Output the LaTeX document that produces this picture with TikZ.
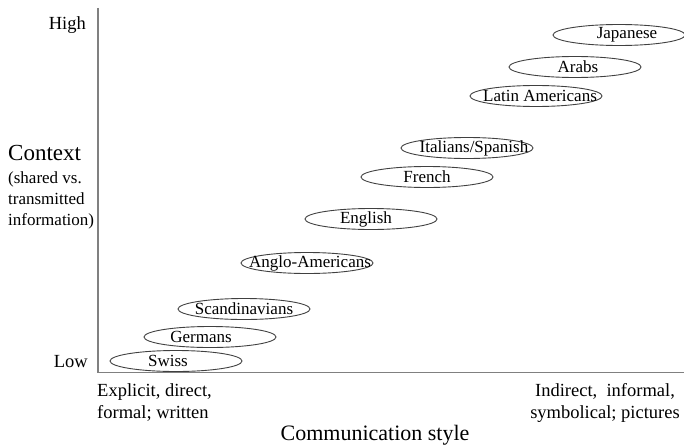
\documentclass[tikz,border=0pt]{standalone}
\usepackage{fontspec}
\setmainfont{Liberation Serif}
\usetikzlibrary{shapes.geometric}
\tikzset{
  culture/.style={ellipse, draw=black!75, line width=0.9pt, minimum width=132pt, minimum height=21pt, inner sep=0pt},
  culturetext/.style={font=\fontsize{17}{19}\selectfont, inner sep=0pt},
  axistext/.style={font=\fontsize{18.5}{22}\selectfont, inner sep=0pt}
}
\begin{document}
\begin{tikzpicture}[x=1pt, y=-1pt]
  \useasboundingbox (0,0) rectangle (684,444);
  % axes
  \coordinate (ytop) at (98,8);
  \coordinate (origin) at (98,372.5);
  \coordinate (xend) at (684,372.5);
  \draw[black!50, line width=1.5pt] (ytop) -- (origin) -- (xend);

  % cultures, low to high context
  \node[culture, label={[culturetext, xshift=-8pt]center:Swiss}] (swiss) at (176,361) {};
  \node[culture, label={[culturetext, xshift=-9pt]center:Germans}] (germans) at (210,337) {};
  \node[culture, label={[culturetext]center:Scandinavians}] (scandinavians) at (244,309) {};
  \node[culture, label={[culturetext, xshift=3pt]center:Anglo-Americans}] (angloamericans) at (307,263) {};
  \node[culture, label={[culturetext, xshift=-5pt]center:English}] (english) at (371,219) {};
  \node[culture, label={[culturetext]center:French}] (french) at (427,177) {};
  \node[culture, label={[culturetext, xshift=7pt]center:Italians/Spanish}] (italians) at (467,148) {};
  \node[culture, label={[culturetext, xshift=4pt]center:Latin Americans}] (latinamericans) at (536,96) {};
  \node[culture, label={[culturetext, xshift=3pt]center:Arabs}] (arabs) at (575,67) {};
  \node[culture, label={[culturetext, xshift=8pt]center:Japanese}] (japanese) at (619,35) {};

  % vertical axis texts
  \node[axistext, anchor=base east] (high) at (86,30) {High};
  \node[axistext, anchor=base east] (low) at (88,367) {Low};
  \node[font=\fontsize{23}{26}\selectfont, inner sep=0pt, anchor=base west] (context) at (8,160) {Context};
  \node[culturetext, align=left, anchor=north west, font=\fontsize{17}{21}\selectfont] (shared) at (8,172) {(shared vs.\\transmitted\\information)};

  % horizontal axis texts
  \node[axistext, align=left, anchor=north west] (explicit) at (97,383) {Explicit, direct,\\formal; written};
  \node[axistext, align=center, anchor=north] (indirect) at (605,383) {Indirect,\ \ informal,\\symbolical; pictures};
  \node[font=\fontsize{22}{26}\selectfont, inner sep=0pt, anchor=base] (style) at (375,440) {Communication style};
\end{tikzpicture}
\end{document}
